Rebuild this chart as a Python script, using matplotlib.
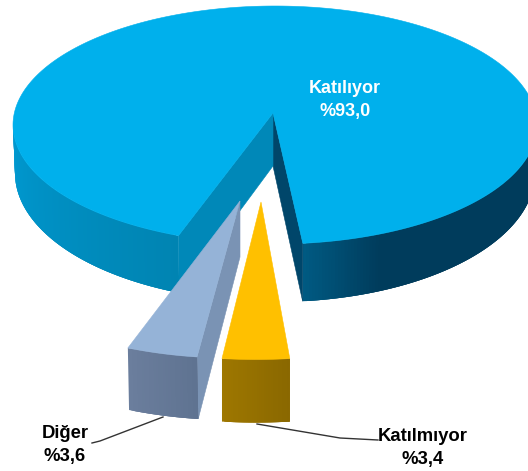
import numpy as np
import matplotlib
matplotlib.use('Agg')
import matplotlib.pyplot as plt
from matplotlib.colors import to_rgb
from matplotlib.patches import Polygon

labels = ['Katılıyor', 'Diğer', 'Katılmıyor']
values = [93.0, 3.6, 3.4]
value_texts = ['%93,0', '%3,6', '%3,4']

plt.rcParams['font.family'] = ['Liberation Sans', 'DejaVu Sans']

fig = plt.figure(figsize=(5.28, 4.71), dpi=100)
ax = fig.add_axes([0, 0, 1, 1])
ax.set_xlim(0, 528)
ax.set_ylim(471, 0)
ax.axis('off')

START = 6.1   # clockwise angle of the first slice edge, 0 = towards viewer
GAP_STRETCH = 1.1  # perspective widens the gap left by the small slices


def arc(cx, cy, rx, ry, t0, t1, n=120):
    t = np.radians(np.linspace(t0, t1, n))
    return np.column_stack([cx + rx * np.sin(t), cy + ry * np.cos(t)])


def poly(pts, color, z):
    ax.add_patch(Polygon(pts, closed=True, facecolor=color, edgecolor=color,
                         linewidth=0.4, zorder=z))


def wall(top, bottom, c0, c1, z, ramp=1.0):
    # shaded side wall, strips overlap the next one so no seams show
    # ramp: share of the wall over which the colour changes, flat after that
    c0, c1 = np.array(to_rgb(c0)), np.array(to_rgb(c1))
    n = len(top)
    for i in range(n - 1):
        j = min(i + 3, n - 1)
        f = min(1.0, i / (n - 2) / ramp)
        pts = [top[i], *top[i + 1:j + 1], *bottom[i + 1:j + 1][::-1], bottom[i]]
        ax.add_patch(Polygon(pts, closed=True, facecolor=tuple(c0 + (c1 - c0) * f),
                             edgecolor='none', linewidth=0, zorder=z))


# slice angles come from the values
sweep = [v * 3.6 for v in values]
gap = sweep[1] + sweep[2]
main_end = START - gap * GAP_STRETCH
yellow_a, yellow_b = START - sweep[2], START
gray_a, gray_b = START - sweep[2] - sweep[1], START - sweep[2]

# main slice
tip = (273, 113)
tip_low = (273, 166)
T = (275, 125, 262, 119)
B = (275, 173, 260, 129)

# outer wall, left of the gap
wall(arc(*T, main_end, -92), arc(*B, main_end, -92), '#0084b2', '#009ad2', 1)
# outer wall, right of the gap
wall(arc(*T, START, 92), arc(*B, START, 92), '#005a82', '#003c5c', 1, ramp=0.2)

# inner walls of the gap
p_r_top = arc(*T, START, START, 2)[0]
p_r_bot = arc(*B, START, START, 2)[0]
p_l_top = arc(*T, main_end, main_end, 2)[0]
p_l_bot = arc(*B, main_end, main_end, 2)[0]
poly([tip, p_r_top, p_r_bot, tip_low], '#00466a', 2)
poly([tip, p_l_top, p_l_bot, tip_low], '#0088b8', 2)

# top face
poly(np.vstack([[tip], arc(*T, START, main_end + 360, 300)]), '#00b0ec', 3)

# Diğer slice
g_tip = (240, 201)
g_tip_low = (240, 257)
g_top = arc(230.6, 176, 314, 182, gray_a, gray_b, 30)
g_bot = g_top + np.array([1.2, 62])
poly([g_tip, g_top[-1], g_bot[-1], g_tip_low], '#7a93b4', 4)
wall(g_top, g_bot, '#6b7e9d', '#5f7391', 5)
poly(np.vstack([[g_tip], g_top]), '#95b3d7', 6)

# Katılmıyor slice
y_tip = (261, 202)
y_top = arc(256, 199.5, 318, 160, yellow_a, yellow_b, 30)
y_bot = y_top + np.array([0, 63])
wall(y_top, y_bot, '#9e7700', '#8a6800', 5)
poly(np.vstack([[y_tip], y_top]), '#ffc000', 6)

# leader lines
ax.plot([92, 100, 163], [443, 441, 417], color='#333333', lw=1.0, zorder=7)
ax.plot([257, 340, 378], [424, 438, 440], color='#333333', lw=1.0, zorder=7)

# labels
ax.text(345, 100, labels[0] + '\n' + value_texts[0], color='white', fontsize=13,
        fontweight='bold', ha='center', va='center', linespacing=1.4, zorder=8)
ax.text(65, 445, labels[1] + '\n' + value_texts[1], color='black', fontsize=13.3,
        fontweight='bold', ha='center', va='center', linespacing=1.4, zorder=8)
ax.text(423, 448, labels[2] + '\n' + value_texts[2], color='black', fontsize=13.3,
        fontweight='bold', ha='center', va='center', linespacing=1.4, zorder=8)

fig.savefig('out.png', dpi=100, facecolor='white')
plt.close(fig)
